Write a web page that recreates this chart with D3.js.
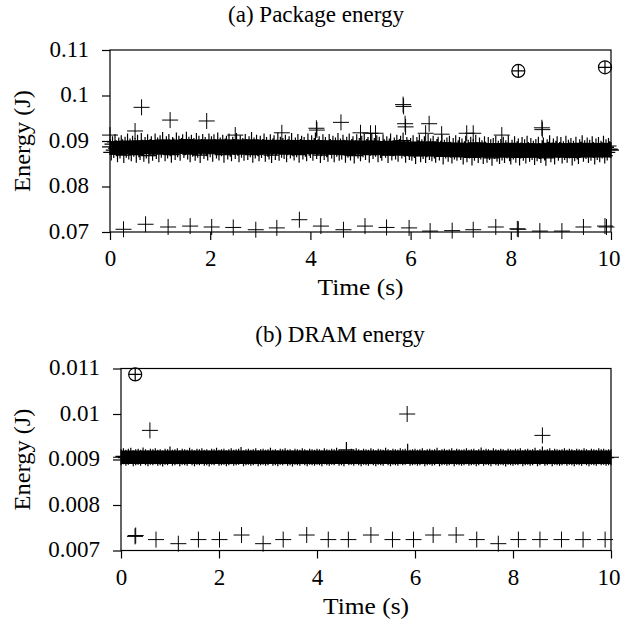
<!DOCTYPE html>
<html><head><meta charset="utf-8">
<script src="https://cdn.jsdelivr.net/npm/d3@7"></script>
<style>
body{margin:0;background:#fff;}
text{font-family:"Liberation Serif","Times New Roman",serif;fill:#000;}
</style></head>
<body><svg id="c" width="621" height="625"></svg>
<script>
// ---------- data ----------
const xTicks = [0, 2, 4, 6, 8, 10];
const pkgYTicks = [0.07, 0.08, 0.09, 0.1, 0.11];
const pkgYTickLabels = ["0.07", "0.08", "0.09", "0.1", "0.11"];
const dramYTicks = [0.007, 0.008, 0.009, 0.01, 0.011];
const dramYTickLabels = ["0.007", "0.008", "0.009", "0.01", "0.011"];

// dense band samples: package every 0.025 s, DRAM every 0.05 s
const pkgBandStep = 0.025;
const pkgBand = [
0.0887,0.0875,0.0893,0.0880,0.0898,0.0884,0.0871,0.0890,0.0879,0.0895,0.0886,0.0869,0.0892,0.0881,0.0899,0.0877,0.0888,0.0873,0.0894,0.0883,
0.0889,0.0870,0.0896,0.0882,0.0876,0.0900,0.0885,0.0872,0.0891,0.0879,0.0897,0.0868,0.0887,0.0893,0.0874,0.0884,0.0899,0.0878,0.0890,0.0871,
0.0895,0.0881,0.0902,0.0886,0.0873,0.0893,0.0879,0.0898,0.0884,0.0870,0.0891,0.0888,0.0876,0.0901,0.0882,0.0894,0.0874,0.0889,0.0897,0.0880,
0.0886,0.0903,0.0877,0.0892,0.0871,0.0896,0.0883,0.0889,0.0874,0.0900,0.0881,0.0894,0.0869,0.0887,0.0898,0.0878,0.0891,0.0884,0.0875,0.0899,
0.0882,0.0893,0.0872,0.0897,0.0886,0.0879,0.0901,0.0875,0.0890,0.0884,0.0896,0.0870,0.0888,0.0894,0.0877,0.0899,0.0883,0.0873,0.0892,0.0887,
0.0878,0.0900,0.0885,0.0871,0.0895,0.0881,0.0889,0.0874,0.0898,0.0886,0.0876,0.0893,0.0882,0.0902,0.0870,0.0890,0.0879,0.0896,0.0884,0.0873,
0.0894,0.0880,0.0887,0.0899,0.0872,0.0891,0.0883,0.0877,0.0897,0.0869,0.0888,0.0895,0.0876,0.0885,0.0901,0.0874,0.0892,0.0881,0.0889,0.0878,
0.0896,0.0871,0.0886,0.0893,0.0879,0.0900,0.0884,0.0875,0.0890,0.0882,0.0898,0.0870,0.0887,0.0894,0.0877,0.0891,0.0883,0.0873,0.0899,0.0885,
0.0880,0.0895,0.0874,0.0889,0.0901,0.0878,0.0886,0.0893,0.0869,0.0884,0.0897,0.0876,0.0891,0.0882,0.0872,0.0898,0.0887,0.0879,0.0894,0.0871,
0.0890,0.0883,0.0900,0.0874,0.0888,0.0877,0.0896,0.0885,0.0870,0.0892,0.0881,0.0899,0.0875,0.0887,0.0893,0.0868,0.0884,0.0897,0.0879,0.0889,
0.0873,0.0894,0.0882,0.0898,0.0876,0.0887,0.0891,0.0870,0.0885,0.0900,0.0878,0.0889,0.0883,0.0895,0.0871,0.0892,0.0880,0.0874,0.0897,0.0886,
0.0881,0.0893,0.0869,0.0888,0.0899,0.0875,0.0884,0.0890,0.0877,0.0896,0.0872,0.0887,0.0894,0.0879,0.0901,0.0883,0.0870,0.0891,0.0885,0.0876,
0.0889,0.0874,0.0895,0.0880,0.0867,0.0891,0.0884,0.0897,0.0871,0.0886,0.0878,0.0893,0.0869,0.0882,0.0898,0.0876,0.0888,0.0873,0.0894,0.0879,
0.0870,0.0887,0.0892,0.0875,0.0883,0.0896,0.0866,0.0885,0.0879,0.0890,0.0872,0.0894,0.0881,0.0868,0.0889,0.0877,0.0895,0.0874,0.0884,0.0891,
0.0876,0.0888,0.0866,0.0882,0.0894,0.0871,0.0885,0.0879,0.0892,0.0864,0.0887,0.0874,0.0896,0.0880,0.0869,0.0890,0.0877,0.0884,0.0867,0.0893,
0.0881,0.0870,0.0891,0.0876,0.0886,0.0863,0.0889,0.0878,0.0894,0.0872,0.0883,0.0867,0.0887,0.0875,0.0892,0.0869,0.0884,0.0879,0.0895,0.0873,
0.0866,0.0885,0.0877,0.0893,0.0870,0.0882,0.0888,0.0864,0.0879,0.0891,0.0874,0.0886,0.0868,0.0894,0.0880,0.0872,0.0889,0.0876,0.0883,0.0865,
0.0887,0.0873,0.0892,0.0878,0.0869,0.0884,0.0890,0.0875,0.0863,0.0886,0.0881,0.0895,0.0871,0.0879,0.0888,0.0866,0.0883,0.0893,0.0874,0.0880,
0.0891,0.0868,0.0882,0.0876,0.0894,0.0870,0.0885,0.0879,0.0889,0.0864,0.0883,0.0873,0.0892,0.0877,0.0867,0.0886,0.0881,0.0895,0.0872,0.0884,
0.0878,0.0890,0.0869,0.0885,0.0874,0.0893,0.0880,0.0866,0.0888,0.0876,0.0891,0.0871,0.0883,0.0879,0.0894,0.0868,0.0886,0.0875,0.0889,0.0882,
0.0880];
const dramBandStep = 0.05;
const dramBand = [
0.00905,0.00907,0.00904,0.00906,0.00908,0.00903,0.00905,0.00906,0.00904,0.00909,0.00905,0.00903,0.00906,0.00905,0.00907,0.00904,0.00905,0.00902,0.00906,0.00905,
0.00911,0.00904,0.00905,0.00907,0.00903,0.00906,0.00905,0.00904,0.00908,0.00905,0.00903,0.00906,0.00905,0.00907,0.00904,0.00905,0.00902,0.00906,0.00905,0.00908,
0.00904,0.00905,0.00906,0.00903,0.00905,0.00907,0.00904,0.00905,0.00906,0.00910,0.00903,0.00905,0.00906,0.00904,0.00905,0.00907,0.00903,0.00905,0.00906,0.00904,
0.00905,0.00908,0.00904,0.00905,0.00903,0.00906,0.00905,0.00907,0.00904,0.00905,0.00902,0.00906,0.00905,0.00904,0.00907,0.00905,0.00903,0.00906,0.00905,0.00904,
0.00906,0.00905,0.00903,0.00907,0.00905,0.00904,0.00906,0.00905,0.00908,0.00904,0.00905,0.00903,0.00921,0.00905,0.00906,0.00904,0.00907,0.00905,0.00903,0.00906,
0.00905,0.00904,0.00907,0.00905,0.00903,0.00906,0.00905,0.00904,0.00908,0.00905,0.00903,0.00906,0.00905,0.00904,0.00907,0.00905,0.00906,0.00917,0.00904,0.00905,
0.00906,0.00904,0.00905,0.00907,0.00903,0.00905,0.00906,0.00904,0.00905,0.00908,0.00903,0.00905,0.00906,0.00904,0.00905,0.00907,0.00903,0.00906,0.00905,0.00904,
0.00905,0.00907,0.00904,0.00905,0.00906,0.00903,0.00905,0.00909,0.00904,0.00906,0.00905,0.00903,0.00907,0.00905,0.00904,0.00906,0.00905,0.00902,0.00906,0.00905,
0.00904,0.00906,0.00905,0.00907,0.00903,0.00905,0.00906,0.00904,0.00905,0.00908,0.00903,0.00905,0.00911,0.00904,0.00905,0.00907,0.00903,0.00906,0.00905,0.00904,
0.00905,0.00907,0.00904,0.00906,0.00905,0.00903,0.00906,0.00905,0.00904,0.00907,0.00905,0.00903,0.00906,0.00905,0.00904,0.00907,0.00905,0.00906,0.00904,0.00905,
0.00905];

// solid core of the dense band (envelope per second)
const coreTime = [0,1,2,3,4,5,6,7,8,9,10];
const pkgCoreHigh = [0.0900,0.0903,0.0904,0.0903,0.0902,0.0901,0.0899,0.0896,0.0895,0.0895,0.0896];
const pkgCoreLow  = [0.0870,0.0872,0.0872,0.0872,0.0871,0.0870,0.0867,0.0864,0.0863,0.0863,0.0864];
const dramCoreHigh = [0.00920,0.00920,0.00920,0.00920,0.00920,0.00920,0.00920,0.00920,0.00920,0.00920,0.00920];
const dramCoreLow  = [0.00890,0.00890,0.00890,0.00890,0.00890,0.00890,0.00890,0.00890,0.00890,0.00890,0.00890];

// isolated samples
const pkgOutT = [0.00,0.50,0.63,1.20,1.93,2.50,3.43,4.12,4.13,4.61,5.00,5.20,5.30,5.85,5.86,5.89,5.90,6.30,6.37,6.62,7.12,7.25,7.82,8.62,8.63];
const pkgOutV = [0.0913,0.0922,0.0974,0.0946,0.0944,0.0913,0.0918,0.0928,0.0924,0.0941,0.0918,0.0917,0.0917,0.0980,0.0976,0.0938,0.0931,0.0917,0.0938,0.0915,0.0917,0.0917,0.0913,0.0929,0.0925];
const pkgLowT = [0.27,0.71,1.16,1.60,2.03,2.46,2.91,3.33,3.78,4.21,4.66,5.09,5.52,5.97,6.39,6.83,7.25,7.70,8.13,8.15,8.58,9.02,9.45,9.88,9.91];
const pkgLowV = [0.0706,0.0717,0.0711,0.0713,0.0711,0.0710,0.0705,0.0709,0.0727,0.0713,0.0705,0.0713,0.0710,0.0709,0.0702,0.0703,0.0705,0.0711,0.0707,0.0706,0.0702,0.0702,0.0711,0.0713,0.0711];
const pkgCircT = [8.15, 9.88];
const pkgCircV = [0.1054, 0.1062];

const dramOutT = [0.59, 5.84, 8.60];
const dramOutV = [0.00964, 0.01000, 0.00953];
const dramLowT = [0.286,0.30,0.714,1.17,1.58,2.01,2.46,2.90,3.31,3.79,4.23,4.64,5.10,5.54,5.97,6.37,6.84,7.26,7.70,8.11,8.55,8.99,9.43,9.88];
const dramLowV = [0.00731,0.00733,0.00724,0.00715,0.00724,0.00724,0.00734,0.00715,0.00724,0.00734,0.00724,0.00724,0.00734,0.00724,0.00724,0.00734,0.00734,0.00724,0.00715,0.00724,0.00724,0.00724,0.00724,0.00724];
const dramCircT = [0.29];
const dramCircV = [0.01087];

// ---------- drawing ----------
const svg = d3.select("#c");
const FS = 23;

function panel(o) {
  const g = svg.append("g");
  const x = d3.scaleLinear().domain([0, 10]).range([o.left, o.right]);
  const y = d3.scaleLinear().domain([o.yTicks[0], o.yTicks[o.yTicks.length-1]]).range([o.bottom, o.top]);

  // core area
  const area = d3.area().x((d,i)=>x(coreTime[i])).y0((d,i)=>y(o.coreLow[i])).y1(d=>y(d));
  g.append("path").datum(o.coreHigh).attr("d", area).attr("fill", "#000");

  const plus = (cx, cy, s) => `M${cx-s},${cy}H${cx+s}M${cx},${cy-s}V${cy+s}`;
  const bandPts = o.band.map((v,i)=>[i*o.bandStep, v]);
  g.append("path")
    .attr("d", bandPts.map(p=>plus(x(p[0]), y(p[1]), 8)).join(""))
    .attr("fill","none").attr("stroke","#000").attr("stroke-width",1.2);
  const pts = [];
  o.outT.forEach((t,i)=>pts.push([t, o.outV[i]]));
  o.lowT.forEach((t,i)=>pts.push([t, o.lowV[i]]));
  g.append("path")
    .attr("d", pts.map(p=>plus(x(p[0]), y(p[1]), 8)).join(""))
    .attr("fill","none").attr("stroke","#000").attr("stroke-width",1);

  o.circT.forEach((t,i)=>{
    const cx = x(t), cy = y(o.circV[i]);
    g.append("circle").attr("cx",cx).attr("cy",cy).attr("r",6.5)
      .attr("fill","none").attr("stroke","#000").attr("stroke-width",1.2);
    g.append("path").attr("d", plus(cx, cy, 6.5)).attr("stroke","#000").attr("stroke-width",1.2);
  });

  // frame
  g.append("rect").attr("x",o.left).attr("y",o.top)
    .attr("width",o.right-o.left).attr("height",o.bottom-o.top)
    .attr("fill","none").attr("stroke","#000").attr("stroke-width",1.2);

  const xa = d3.axisBottom(x).tickValues(xTicks).tickSize(8).tickPadding(9).tickFormat(d3.format("d"));
  const xg = g.append("g").attr("transform",`translate(0,${o.bottom})`).call(xa);
  const ya = d3.axisLeft(y).tickValues(o.yTicks).tickSize(8).tickPadding(13)
    .tickFormat((d,i)=>o.yLabels[i]);
  const yg = g.append("g").attr("transform",`translate(${o.left},0)`).call(ya);
  [xg, yg].forEach(a=>{
    a.select(".domain").remove();
    a.selectAll(".tick line").attr("stroke","#000").attr("stroke-width",1.2);
    a.selectAll(".tick text").attr("font-size",FS).attr("font-family","Liberation Serif").attr("fill","#000");
  });
  yg.selectAll(".tick text").attr("dy","0.28em");
  xg.selectAll(".tick text").attr("dy","0.75em");
  // keep the last x label inside the window
  xg.selectAll(".tick text").filter(d=>d===10).attr("text-anchor","end").attr("x", 620 - o.right);

  g.append("text").attr("x",(o.left+o.right)/2).attr("y",o.bottom+63)
    .attr("text-anchor","middle").attr("font-size",FS)
    .attr("textLength",86).attr("lengthAdjust","spacingAndGlyphs").text("Time (s)");
  g.append("text").attr("transform",`translate(30,${(o.top+o.bottom)/2}) rotate(-90)`)
    .attr("text-anchor","middle").attr("font-size",FS)
    .attr("textLength",102).attr("lengthAdjust","spacingAndGlyphs").text("Energy (J)");
  g.append("text").attr("x",o.titleX).attr("y",o.titleY)
    .attr("text-anchor","middle").attr("font-size",FS).text(o.title);
}

panel({left:110,right:611,top:50,bottom:232,yTicks:pkgYTicks,yLabels:pkgYTickLabels,
  band:pkgBand,bandStep:pkgBandStep,coreHigh:pkgCoreHigh,coreLow:pkgCoreLow,outT:pkgOutT,outV:pkgOutV,
  lowT:pkgLowT,lowV:pkgLowV,circT:pkgCircT,circV:pkgCircV,
  title:"(a) Package energy",titleX:316,titleY:22});
panel({left:121,right:611,top:368.5,bottom:550.5,yTicks:dramYTicks,yLabels:dramYTickLabels,
  band:dramBand,bandStep:dramBandStep,coreHigh:dramCoreHigh,coreLow:dramCoreLow,outT:dramOutT,outV:dramOutV,
  lowT:dramLowT,lowV:dramLowV,circT:dramCircT,circV:dramCircV,
  title:"(b) DRAM energy",titleX:340,titleY:342});
</script></body></html>
